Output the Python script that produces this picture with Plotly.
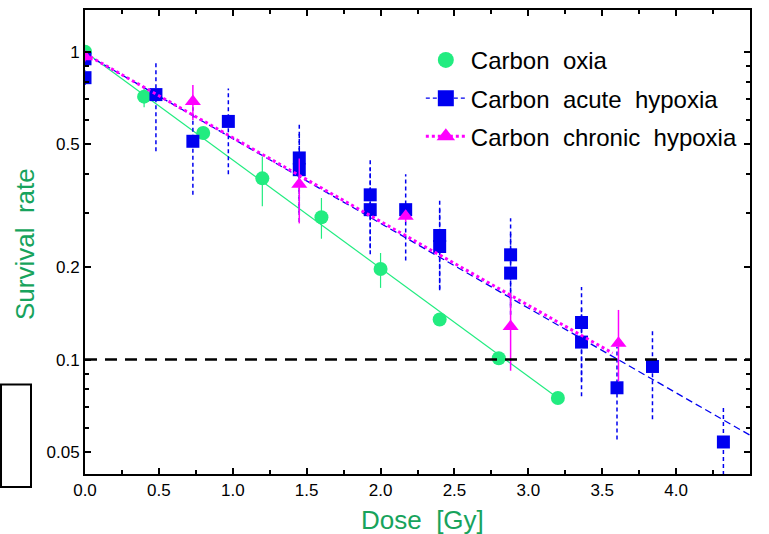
import math
import plotly.graph_objects as go

# ---------------- data ----------------
# Carbon oxia (green circles)
oxia_dose = [0.0, 0.4, 0.8, 1.2, 1.6, 2.0, 2.4, 2.8, 3.2]
oxia_surv = [1.0, 0.715, 0.545, 0.388, 0.290, 0.197, 0.135, 0.101, 0.075]
oxia_lo = [0.97, 0.66, 0.52, 0.315, 0.247, 0.171, 0.13, 0.098, 0.073]
oxia_hi = [1.03, 0.76, 0.57, 0.457, 0.335, 0.222, 0.14, 0.104, 0.077]

# Carbon acute hypoxia (blue squares)
acute_dose = [0.0, 0.0, 0.48, 0.73, 0.97, 1.45, 1.45, 1.93, 1.93, 2.17, 2.40, 2.40,
              2.88, 2.88, 3.36, 3.36, 3.60, 3.84, 4.32]
acute_surv = [0.949, 0.824, 0.726, 0.512, 0.594, 0.452, 0.414, 0.343, 0.307, 0.307,
              0.253, 0.233, 0.219, 0.191, 0.132, 0.114, 0.081, 0.095, 0.054]
acute_lo = [0.90, 0.78, 0.475, 0.343, 0.40, 0.30, 0.28, 0.23, 0.22, 0.21, 0.17, 0.168,
            0.15, 0.14, 0.085, 0.076, 0.055, 0.064, 0.040]
acute_hi = [0.99, 0.87, 0.92, 0.66, 0.76, 0.585, 0.55, 0.447, 0.42, 0.40, 0.33, 0.31,
            0.288, 0.26, 0.172, 0.15, 0.11, 0.124, 0.071]

# Carbon chronic hypoxia (magenta triangles)
chronic_dose = [0.0, 0.73, 1.45, 2.17, 2.88, 3.61]
chronic_surv = [0.963, 0.689, 0.371, 0.292, 0.128, 0.113]
chronic_lo = [0.93, 0.60, 0.277, 0.28, 0.092, 0.085]
chronic_hi = [0.99, 0.78, 0.45, 0.305, 0.165, 0.145]

# fitted survival curves (end points of the straight lines on log scale)
oxia_fit_dose = [0.0, 3.2]
oxia_fit_surv = [1.0, 0.075]
acute_fit_dose = [0.0, 4.5]
acute_fit_surv = [0.985, 0.0568]
chronic_fit_dose = [0.0, 3.57]
chronic_fit_surv = [0.985, 0.105]

threshold = 0.1
x_range = [0.0, 4.5]
y_range = [0.0425, 1.367]

x_ticks = [0.0, 0.5, 1.0, 1.5, 2.0, 2.5, 3.0, 3.5, 4.0]
y_ticks = [0.05, 0.1, 0.2, 0.5, 1.0]
y_ticktext = ["0.05", "0.1", "0.2", "0.5", "1"]
y_minor = [0.06, 0.07, 0.08, 0.09, 0.3, 0.4, 0.6, 0.7, 0.8, 0.9]

names = ["Carbon  oxia", "Carbon  acute  hypoxia", "Carbon  chronic  hypoxia"]

GREEN = "#22ec80"
BLUE = "#0000f0"
MAGENTA = "#ff00ff"
TITLE_GREEN = "#17a35c"
FONT = "Liberation Sans, Arial, sans-serif"


def bars(xs, lo, hi):
    bx, by = [], []
    for x, l, h in zip(xs, lo, hi):
        bx += [x, x, None]
        by += [l, h, None]
    return bx, by


fig = go.Figure()

# green
fig.add_trace(go.Scatter(x=oxia_fit_dose, y=oxia_fit_surv, mode="lines",
                         line=dict(color=GREEN, width=1.2), showlegend=False, hoverinfo="skip"))
bx, by = bars(oxia_dose, oxia_lo, oxia_hi)
fig.add_trace(go.Scatter(x=bx, y=by, mode="lines", line=dict(color=GREEN, width=1.2),
                         showlegend=False, hoverinfo="skip"))
fig.add_trace(go.Scatter(x=oxia_dose, y=oxia_surv, mode="markers",
                         marker=dict(symbol="circle", size=14, color=GREEN),
                         showlegend=False))

# blue
fig.add_trace(go.Scatter(x=acute_fit_dose, y=acute_fit_surv, mode="lines",
                         line=dict(color=BLUE, width=1.3, dash="7px,4px"),
                         showlegend=False, hoverinfo="skip"))
bx, by = bars(acute_dose, acute_lo, acute_hi)
fig.add_trace(go.Scatter(x=bx, y=by, mode="lines", line=dict(color=BLUE, width=1.5, dash="4px,3px"),
                         showlegend=False, hoverinfo="skip"))
fig.add_trace(go.Scatter(x=acute_dose, y=acute_surv, mode="markers",
                         marker=dict(symbol="square", size=13, color=BLUE),
                         showlegend=False))

# magenta
fig.add_trace(go.Scatter(x=chronic_fit_dose, y=chronic_fit_surv, mode="lines",
                         line=dict(color=MAGENTA, width=3, dash="dot"),
                         showlegend=False, hoverinfo="skip"))
bx, by = bars(chronic_dose, chronic_lo, chronic_hi)
fig.add_trace(go.Scatter(x=bx, y=by, mode="lines", line=dict(color=MAGENTA, width=1.5),
                         showlegend=False, hoverinfo="skip"))
fig.add_trace(go.Scatter(x=chronic_dose, y=chronic_surv, mode="markers",
                         marker=dict(symbol="triangle-up", size=14, color=MAGENTA),
                         showlegend=False))

# threshold line
fig.add_trace(go.Scatter(x=x_range, y=[threshold, threshold], mode="lines",
                         line=dict(color="black", width=2.5, dash="12px,8px"),
                         showlegend=False, hoverinfo="skip"))

# legend entries
fig.add_trace(go.Scatter(x=[None], y=[None], mode="markers", name=names[0], legendgroup="a",
                         marker=dict(symbol="circle", size=17, color=GREEN)))
fig.add_trace(go.Scatter(x=[None], y=[None], mode="lines+markers", name=names[1], legendgroup="b",
                         line=dict(color=BLUE, width=1.3, dash="4px,3px"),
                         marker=dict(symbol="square", size=16, color=BLUE)))
fig.add_trace(go.Scatter(x=[None], y=[None], mode="lines+markers", name=names[2], legendgroup="c",
                         line=dict(color=MAGENTA, width=3, dash="dot"),
                         marker=dict(symbol="triangle-up", size=17, color=MAGENTA)))

fig.update_layout(
    width=769, height=534,
    margin=dict(l=85, r=19, t=8, b=60),
    paper_bgcolor="white", plot_bgcolor="white",
    font=dict(family=FONT, color="black"),
    showlegend=True,
    legend=dict(x=0.505, y=0.94, xanchor="left", yanchor="top",
                font=dict(size=24, family=FONT, color="black"),
                bgcolor="rgba(0,0,0,0)", tracegroupgap=4, itemwidth=40),
    xaxis=dict(range=x_range, tickvals=x_ticks, tickformat=".1f",
               ticks="inside", ticklen=6, tickwidth=1.5, tickcolor="black",
               minor=dict(dtick=0.25, ticks="inside", ticklen=4, tickwidth=1.5, tickcolor="black"),
               showline=True, linewidth=2, linecolor="black", mirror="allticks",
               showgrid=False, zeroline=False,
               tickfont=dict(size=17, family=FONT, color="black")),
    yaxis=dict(type="log", range=[math.log10(y_range[0]), math.log10(y_range[1])],
               tickvals=y_ticks, ticktext=y_ticktext,
               ticks="inside", ticklen=6, tickwidth=1.5, tickcolor="black",
               minor=dict(tickvals=y_minor, ticks="inside", ticklen=4, tickwidth=1.5,
                          tickcolor="black", showgrid=False),
               showline=True, linewidth=2, linecolor="black", mirror="allticks",
               showgrid=False, zeroline=False,
               tickfont=dict(size=17, family=FONT, color="black")),
    annotations=[
        dict(text="Dose  [Gy]", xref="paper", yref="paper", x=0.5075, y=-0.0987,
             xanchor="center", yanchor="middle", showarrow=False,
             font=dict(size=26, family=FONT, color=TITLE_GREEN)),
        dict(text="Survival  rate", xref="paper", yref="paper", x=-0.0902, y=0.4957,
             xanchor="center", yanchor="middle", textangle=-90, showarrow=False,
             font=dict(size=26, family=FONT, color=TITLE_GREEN)),
    ],
    shapes=[dict(type="rect", xref="paper", yref="paper",
                 x0=-0.1263, x1=-0.0812, y0=-0.0279, y1=0.193,
                 line=dict(color="black", width=2), fillcolor="rgba(0,0,0,0)")],
)

fig.write_html("out.html")
